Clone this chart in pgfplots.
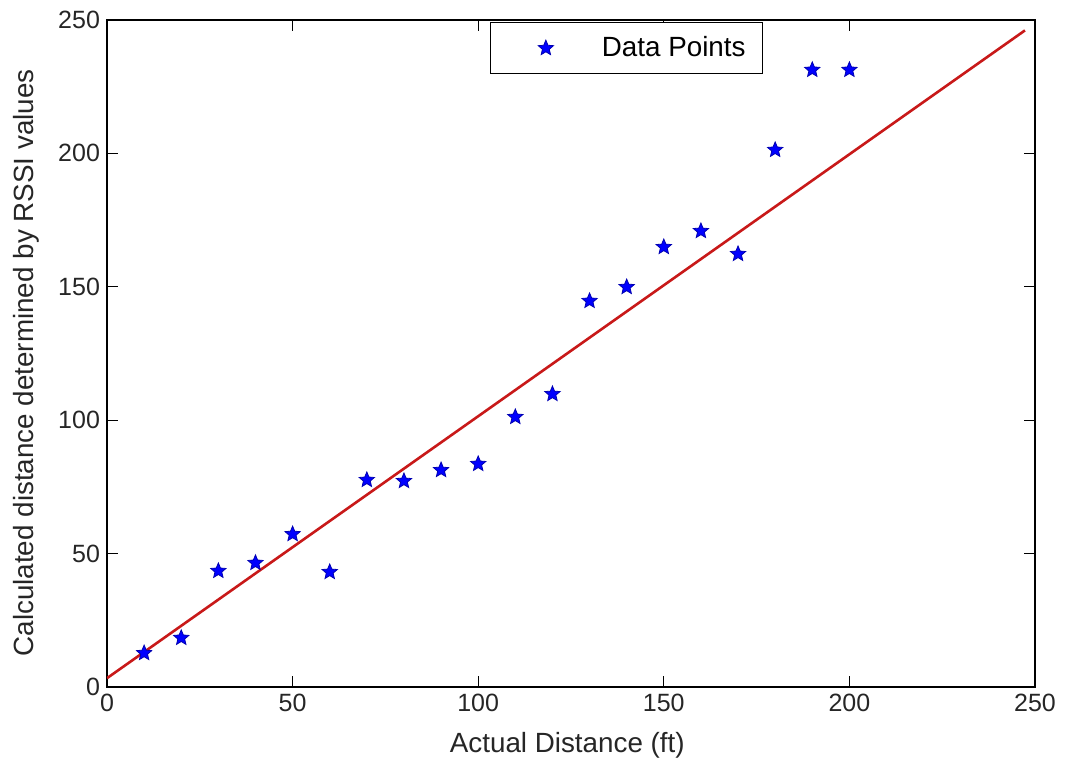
\documentclass[border=0pt]{standalone}
\usepackage{pgfplots}
\pgfplotsset{compat=1.18}
\usepackage{fontspec}
\setmainfont{Liberation Sans}
\definecolor{mblue}{rgb}{0,0,1}
\definecolor{mred}{RGB}{200,25,25}
\pgfdeclareplotmark{fstar}{%
  \pgfpathmoveto{\pgfpointpolar{90}{\pgfplotmarksize}}%
  \pgfpathlineto{\pgfpointpolar{126}{0.45\pgfplotmarksize}}%
  \pgfpathlineto{\pgfpointpolar{162}{\pgfplotmarksize}}%
  \pgfpathlineto{\pgfpointpolar{198}{0.45\pgfplotmarksize}}%
  \pgfpathlineto{\pgfpointpolar{234}{\pgfplotmarksize}}%
  \pgfpathlineto{\pgfpointpolar{270}{0.45\pgfplotmarksize}}%
  \pgfpathlineto{\pgfpointpolar{306}{\pgfplotmarksize}}%
  \pgfpathlineto{\pgfpointpolar{342}{0.45\pgfplotmarksize}}%
  \pgfpathlineto{\pgfpointpolar{18}{\pgfplotmarksize}}%
  \pgfpathlineto{\pgfpointpolar{54}{0.45\pgfplotmarksize}}%
  \pgfpathclose
  \pgfusepathqfillstroke
}
\begin{document}
\begin{tikzpicture}
\useasboundingbox (-53.5pt,-38pt) rectangle (479pt,343.5pt);
\begin{axis}[
  scale only axis,
  width=464pt, height=333.5pt,
  xmin=0, xmax=250, ymin=0, ymax=250,
  xtick={0,50,...,250}, ytick={0,50,...,250},
  tick align=inside,
  tick pos=both,
  major tick length=5.5pt,
  axis line style={line width=0.7pt},
  every tick/.style={black, line width=0.6pt},
  /pgf/number format/assume math mode=true,
  tick label style={font=\fontsize{12.5}{14}\selectfont, color=black!85},
  label style={font=\fontsize{13.9}{16}\selectfont, color=black!85},
  xlabel={Actual Distance (ft)},
  ylabel={Calculated distance determined by RSSI values},
  xlabel style={at={(axis description cs:0.496,0)}, anchor=base, yshift=-33pt},
  ylabel style={at={(axis description cs:-0.0873,0.486)}, anchor=center, rotate=0},
  legend style={at={(axis description cs:0.413,0.997)}, anchor=north west,
    draw=black, line width=0.6pt, font=\fontsize{13.9}{16}\selectfont,
    inner xsep=2pt, inner ysep=5pt},
  legend image code/.code={%
    \path[draw=none, fill=none] (0pt,-3pt) rectangle (51.5pt,3pt);
    \draw[#1] plot coordinates {(25.5pt,0pt)};},
]
\addplot[only marks, mark=fstar, mark size=4pt, draw=mblue!70!black, fill=mblue, line width=0.4pt]
coordinates {
(10,12.7) (20,18.4) (30,43.5) (40,46.5) (50,57.3) (60,43.1) (70,77.6)
(80,77.2) (90,81.3) (100,83.6) (110,101.2) (120,109.8) (130,144.7)
(140,149.9) (150,164.9) (160,170.9) (170,162.3) (180,201.3) (190,231.3) (200,231.3)
};
\addlegendentry{Data Points\rule{4.5pt}{0pt}}
\addplot[mred, line width=1.3pt, forget plot] coordinates {(0,3.3) (247.3,246.1)};
\end{axis}
\end{tikzpicture}
\end{document}
